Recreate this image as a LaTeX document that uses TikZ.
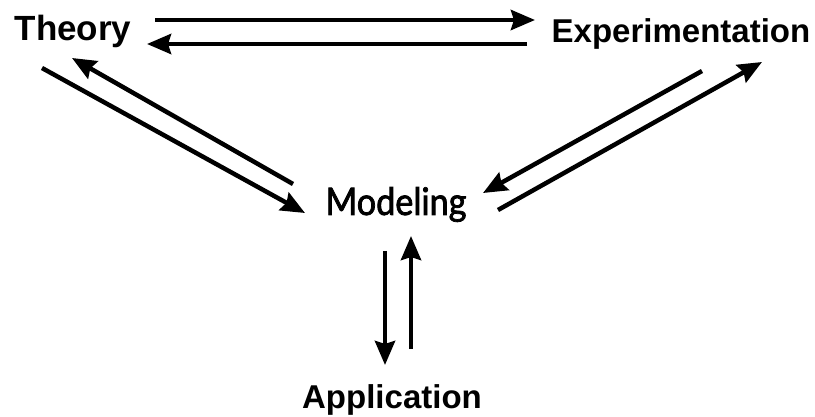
\documentclass[tikz,border=0pt]{standalone}
\usepackage{fontspec}
\setmainfont{Liberation Sans}
\newfontfamily\modfont{Lato}[FakeBold=2, FakeStretch=0.9]
\usetikzlibrary{arrows.meta,positioning}

\begin{document}
\begin{tikzpicture}[x=1pt, y=-1pt,
    lbl/.style={anchor=base, inner sep=0pt, font=\fontsize{33}{38}\selectfont\bfseries},
    flow/.style={line width=4.5pt, -{Stealth[length=24pt, width=20pt, inset=3pt]}}]
    \useasboundingbox (0, 0) rectangle (815, 417);

    \node[lbl, font=\fontsize{35}{40}\selectfont\bfseries] (theory) at (73, 41) {Theory};
    \node[lbl] (expt) at (681, 43) {Experimentation};
    \node[anchor=base, inner sep=0pt, font=\fontsize{38}{44}\selectfont\modfont] (model) at (396, 215) {Modeling};
    \node[lbl] (appl) at (392, 408) {Application};

    % ends of the arrows
    \coordinate (te1) at (155, 20);  \coordinate (te2) at (535, 20);
    \coordinate (et1) at (527, 44);  \coordinate (et2) at (147, 44);
    \coordinate (mt1) at (293, 184); \coordinate (mt2) at (72, 58);
    \coordinate (tm1) at (42, 68);   \coordinate (tm2) at (305, 213);
    \coordinate (em1) at (702, 71);  \coordinate (em2) at (483, 193);
    \coordinate (me1) at (498, 210); \coordinate (me2) at (762, 62);
    \coordinate (ma1) at (385, 251); \coordinate (ma2) at (385, 365);
    \coordinate (am1) at (411, 349); \coordinate (am2) at (411, 236);

    \draw[flow] (te1) -- (te2);
    \draw[flow] (et1) -- (et2);
    \draw[flow] (mt1) -- (mt2);
    \draw[flow] (tm1) -- (tm2);
    \draw[flow] (em1) -- (em2);
    \draw[flow] (me1) -- (me2);
    \draw[flow] (ma1) -- (ma2);
    \draw[flow] (am1) -- (am2);
\end{tikzpicture}
\end{document}
